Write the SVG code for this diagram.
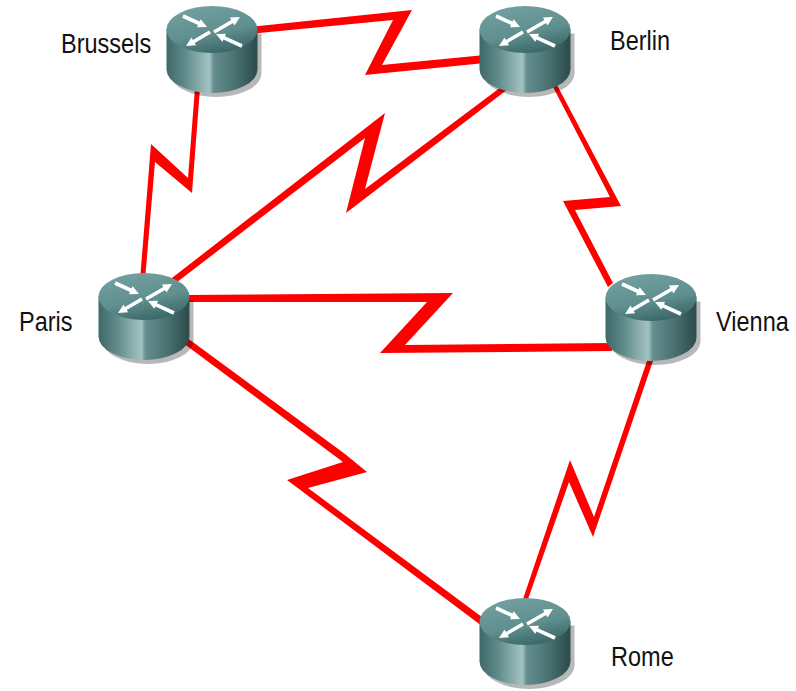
<svg xmlns="http://www.w3.org/2000/svg" width="796" height="691" viewBox="0 0 796 691">
<style>
.lbl{font-family:"Liberation Sans",Arial,sans-serif;font-size:28px;fill:#111}
.link{fill:#ff0000}
.arr{fill:#fff}
</style>
<defs>
<linearGradient id="side" x1="0" x2="1" y1="0" y2="0">
<stop offset="0" stop-color="#3f6868"/><stop offset=".2" stop-color="#5f8a8a"/><stop offset=".47" stop-color="#a3c3c3"/><stop offset=".52" stop-color="#648e8e"/><stop offset=".75" stop-color="#4a7272"/><stop offset=".97" stop-color="#2f4f4f"/>
</linearGradient>
<linearGradient id="top" x1=".2" x2=".6" y1="0" y2="1">
<stop offset="0" stop-color="#74a0a0"/><stop offset=".6" stop-color="#5f8f8f"/><stop offset="1" stop-color="#3a6666"/>
</linearGradient>
<g id="router">
<path d="M-41.5 4V44A45.5 23.5 0 0 0 49.5 44V4Z" fill="#000" opacity=".28"/>
<path d="M-45.5 0V40A45.5 23.5 0 0 0 45.5 40V0Z" fill="url(#side)"/>
<ellipse rx="45.5" ry="23.5" fill="url(#top)"/>
<polygon class="arr" points="-29.75,-11.86 -13.95,-4.61 -15.08,-2.16 -5,-2.5 -11.32,-10.34 -12.45,-7.89 -28.25,-15.14"/>
<polygon class="arr" points="2.9,4.06 21.1,-6.44 22.45,-4.1 28,-12.5 17.95,-11.9 19.3,-9.56 1.1,.94"/>
<polygon class="arr" points="-1.09,4.06 -17.29,13.52 -15.93,15.85 -26,16.5 -20.47,8.07 -19.11,10.4 -2.91,.94"/>
<polygon class="arr" points="30.75,14.87 12.95,6.64 14.09,4.18 4,4.5 10.31,12.36 11.45,9.9 29.25,18.13"/>
</g>
</defs>
<g id="connectors">
<polygon class="link" points="250,27 412,10 382,65 485,55 485,63 365,75 393,20 250,34"/>
<polygon class="link" points="200,88 192,193 155,162 145,280 140,280 151,144 188,178 195,88"/>
<polygon class="link" points="168,281 385,113 365,189 505,84 508,89 346,213 365,138 168,289"/>
<polygon class="link" points="185,295 453,293 405,345 612,343 612,351 380,353 427,302 185,302"/>
<polygon class="link" points="186,337 345,454 367,472 308,488 486,620 482,626 287,480 343,462 183,343"/>
<polygon class="link" points="557,85 621,206 575,210 613,283 608,287 563,201 610,197 552,85"/>
<polygon class="link" points="654,358 593,537 569,482 527,602 522,602 570,460 594,517 648,358"/>
</g>
<g id="brussels"><use href="#router" x="212" y="29.5"/><text class="lbl" transform="translate(61,52.5) scale(.84,1)">Brussels</text></g>
<g id="berlin"><use href="#router" x="525" y="29.5"/><text class="lbl" transform="translate(610,50) scale(.84,1)">Berlin</text></g>
<g id="paris"><use href="#router" x="144" y="296.5"/><text class="lbl" transform="translate(19,331) scale(.84,1)">Paris</text></g>
<g id="vienna"><use href="#router" x="651" y="297.5"/><text class="lbl" transform="translate(716,331) scale(.84,1)">Vienna</text></g>
<g id="rome"><use href="#router" x="525" y="621.5"/><text class="lbl" transform="translate(611,666) scale(.84,1)">Rome</text></g>
</svg>
